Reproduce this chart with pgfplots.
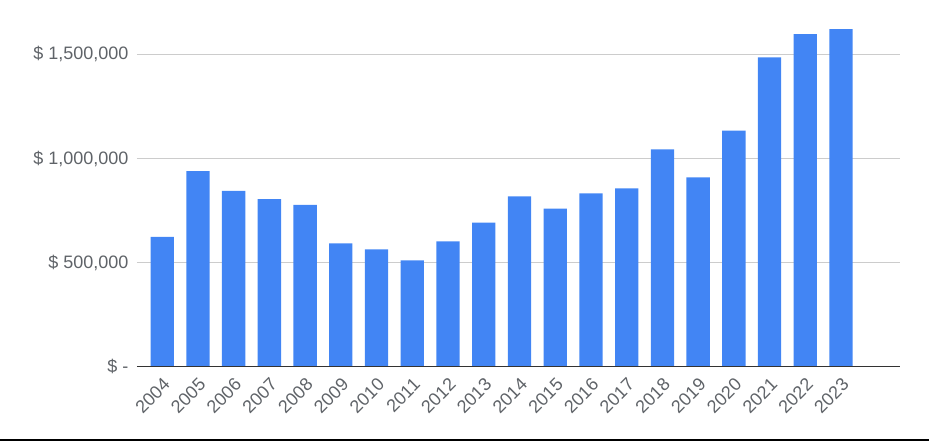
\documentclass[border=0pt]{standalone}
\usepackage{pgfplots}
\pgfplotsset{compat=1.18}
\usepackage{fontspec}
\setmainfont{Liberation Sans}
\definecolor{barblue}{HTML}{4285F4}
\definecolor{txtgray}{HTML}{5F6368}
\definecolor{gridgray}{HTML}{CCCCCC}
\begin{document}
\begin{tikzpicture}
\useasboundingbox (0pt,0pt) rectangle (929pt,442pt);
\begin{axis}[
  at={(137pt,75.3pt)}, anchor=south west,
  scale only axis, width=763pt, height=353.9pt,
  xmin=-0.705, xmax=20.65,
  ymin=0, ymax=1700000,
  scaled y ticks=false,
  axis line style={draw=none},
  ytick={0,500000,1000000,1500000},
  yticklabels={{\$ -}, {\$ 500,000}, {\$ 1,000,000}, {\$ 1,500,000}},
  xtick={0,...,19},
  xticklabels={2004,2005,2006,2007,2008,2009,2010,2011,2012,2013,2014,2015,2016,2017,2018,2019,2020,2021,2022,2023},
  tick style={draw=none},
  ymajorgrids, grid style={gridgray, line width=0.8pt},
  yticklabel style={font=\fontsize{18}{20}\selectfont, text=txtgray, xshift=-5pt},
  xticklabel style={font=\fontsize{18}{20}\selectfont, text=txtgray, xshift=0pt, yshift=-1pt, rotate=45, anchor=north east},
  ybar, bar width=23.3pt,
  clip=false,
]
\addplot[fill=barblue, draw=none] coordinates {
(0,624000) (1,940000) (2,844000) (3,805000) (4,777000)
(5,593000) (6,564000) (7,511000) (8,602000) (9,692000)
(10,818000) (11,759000) (12,833000) (13,857000) (14,1044000)
(15,910000) (16,1134000) (17,1486000) (18,1598000) (19,1621000)};
\draw[black!80, line width=1.3pt] (axis cs:-0.705,0) -- (axis cs:20.65,0);
\end{axis}
\draw[black, line width=1.5pt] (0pt,2pt) -- (929pt,2pt);
\end{tikzpicture}
\end{document}
